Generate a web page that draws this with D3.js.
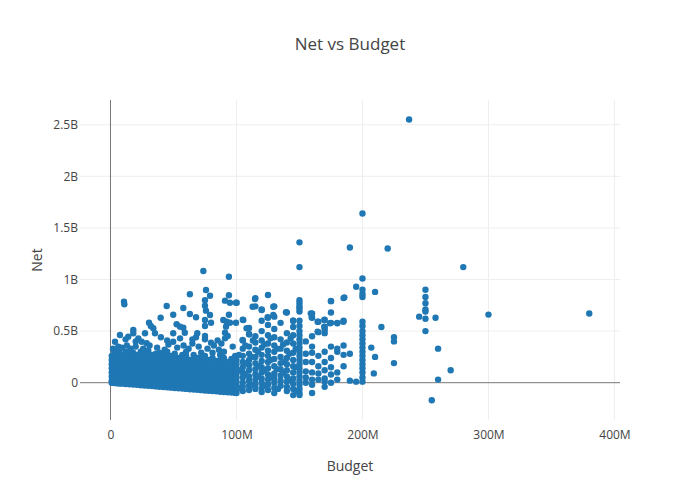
<!DOCTYPE html>
<html>
<head>
<meta charset="utf-8">
<script src="https://d3js.org/d3.v7.min.js"></script>
<style>
  body { margin: 0; background: #fff; }
  text { font-family: "Open Sans", "Noto Sans", sans-serif; fill: #444; }
</style>
</head>
<body>
<div id="chart"></div>
<script>
/* Budget in millions, Net in billions */

/* Dense block of low budget films: budget -> list of nets */
var blobBudgets = [1, 3, 5, 7, 9, 12, 15, 18, 21, 24, 27, 30, 33, 36, 39, 42, 45, 48, 51, 54,
                   57, 60, 63, 66, 69, 72, 75, 78, 81, 84, 87, 90, 93, 96, 99, 100];
var blobNets = [
  [-0.001, 0.02, 0.06, 0.1, 0.14, 0.18, 0.22, 0.26],
  [-0.003, 0.03, 0.07, 0.11, 0.15, 0.19, 0.23, 0.28, 0.31],
  [-0.005, 0.02, 0.06, 0.1, 0.14, 0.19, 0.24, 0.29],
  [-0.007, 0.03, 0.07, 0.12, 0.16, 0.2, 0.25, 0.3],
  [-0.009, 0.02, 0.06, 0.1, 0.15, 0.19, 0.23, 0.27],
  [-0.012, 0.02, 0.06, 0.1, 0.14, 0.18, 0.22, 0.26, 0.3],
  [-0.015, 0.02, 0.06, 0.11, 0.15, 0.19, 0.24, 0.28],
  [-0.018, 0.01, 0.05, 0.09, 0.13, 0.17, 0.21, 0.25, 0.29],
  [-0.021, 0.01, 0.05, 0.1, 0.14, 0.18, 0.22, 0.27],
  [-0.024, 0.01, 0.05, 0.09, 0.13, 0.17, 0.21, 0.25, 0.3],
  [-0.027, 0.0, 0.04, 0.08, 0.12, 0.16, 0.2, 0.24, 0.28],
  [-0.03, 0.0, 0.04, 0.08, 0.12, 0.17, 0.21, 0.26, 0.31],
  [-0.033, 0.0, 0.04, 0.08, 0.12, 0.16, 0.2, 0.24, 0.27],
  [-0.036, -0.01, 0.03, 0.07, 0.11, 0.15, 0.19, 0.23, 0.28],
  [-0.039, -0.01, 0.03, 0.07, 0.11, 0.16, 0.2, 0.25, 0.29],
  [-0.042, -0.01, 0.03, 0.07, 0.11, 0.15, 0.19, 0.23, 0.27],
  [-0.045, -0.01, 0.03, 0.07, 0.12, 0.16, 0.2, 0.25, 0.3],
  [-0.048, -0.02, 0.02, 0.06, 0.1, 0.14, 0.18, 0.22, 0.26],
  [-0.051, -0.02, 0.02, 0.06, 0.1, 0.14, 0.19, 0.23, 0.28],
  [-0.054, -0.02, 0.02, 0.06, 0.1, 0.15, 0.19, 0.24],
  [-0.057, -0.02, 0.02, 0.06, 0.1, 0.14, 0.18, 0.22, 0.27],
  [-0.06, -0.03, 0.01, 0.05, 0.09, 0.13, 0.17, 0.21, 0.26, 0.3],
  [-0.063, -0.03, 0.01, 0.05, 0.09, 0.13, 0.17, 0.22],
  [-0.066, -0.03, 0.01, 0.05, 0.09, 0.14, 0.18, 0.23, 0.27],
  [-0.069, -0.03, 0.01, 0.05, 0.1, 0.14, 0.19, 0.24],
  [-0.072, -0.04, 0.0, 0.04, 0.08, 0.12, 0.16, 0.2, 0.25, 0.29],
  [-0.075, -0.04, 0.0, 0.04, 0.08, 0.12, 0.17, 0.21, 0.26],
  [-0.078, -0.04, 0.0, 0.04, 0.08, 0.13, 0.17, 0.22],
  [-0.081, -0.05, -0.01, 0.03, 0.07, 0.11, 0.15, 0.2, 0.24, 0.29],
  [-0.084, -0.05, -0.01, 0.03, 0.07, 0.11, 0.16, 0.21],
  [-0.087, -0.05, -0.01, 0.03, 0.07, 0.12, 0.17, 0.22, 0.27],
  [-0.09, -0.06, -0.02, 0.02, 0.06, 0.1, 0.14, 0.19, 0.24, 0.3],
  [-0.093, -0.06, -0.02, 0.02, 0.06, 0.11, 0.15, 0.2],
  [-0.096, -0.06, -0.02, 0.02, 0.07, 0.12, 0.17, 0.23],
  [-0.099, -0.06, -0.02, 0.02, 0.06, 0.1, 0.15, 0.2, 0.26],
  [-0.1, -0.07, -0.03, 0.01, 0.05, 0.09, 0.13, 0.18, 0.22]
];

/* Bigger budgets, mostly at round numbers */
var colBudgets = [105, 110, 115, 120, 125, 130, 135, 140, 145, 150, 155, 160, 165, 170, 175,
                  180, 185, 190, 195, 200];
var colNets = [
  [-0.08, -0.04, 0.0, 0.05, 0.1, 0.15, 0.2, 0.26, 0.33, 0.41, 0.61],
  [-0.07, -0.03, 0.02, 0.06, 0.12, 0.17, 0.22, 0.28, 0.35, 0.47, 0.53],
  [-0.06, -0.02, 0.03, 0.08, 0.13, 0.19, 0.25, 0.32, 0.39, 0.45, 0.74, 0.82],
  [-0.09, -0.05, 0.0, 0.04, 0.1, 0.15, 0.21, 0.27, 0.34, 0.41, 0.5, 0.6, 0.71],
  [-0.07, -0.02, 0.03, 0.08, 0.14, 0.2, 0.26, 0.31, 0.38, 0.46, 0.56, 0.63, 0.85],
  [-0.1, -0.05, 0.0, 0.04, 0.09, 0.16, 0.23, 0.3, 0.36, 0.44, 0.52, 0.64, 0.74],
  [-0.03, 0.02, 0.07, 0.13, 0.19, 0.25, 0.33, 0.42, 0.58],
  [-0.08, -0.04, 0.01, 0.06, 0.12, 0.18, 0.24, 0.31, 0.39, 0.48, 0.68],
  [-0.12, -0.06, -0.01, 0.04, 0.1, 0.16, 0.22, 0.29, 0.38, 0.46, 0.54, 0.6],
  [-0.12, -0.1, -0.06, -0.02, 0.02, 0.06, 0.1, 0.14, 0.18, 0.22, 0.26, 0.3, 0.34, 0.38,
   0.42, 0.46, 0.5, 0.55, 0.6, 0.69, 0.72, 0.74, 0.77, 0.8, 1.12, 1.36],
  [0.0, 0.05, 0.11, 0.2, 0.28, 0.4],
  [-0.1, -0.02, 0.03, 0.1, 0.2, 0.29, 0.35, 0.45, 0.63, 0.67],
  [0.03, 0.09, 0.16, 0.26, 0.49, 0.59],
  [-0.04, 0.01, 0.04, 0.12, 0.2, 0.3, 0.48, 0.51, 0.54, 0.61],
  [0.0, 0.08, 0.15, 0.24, 0.35, 0.58, 0.68, 0.79],
  [0.03, 0.1, 0.3, 0.33, 0.58],
  [0.16, 0.27, 0.36, 0.6, 0.82],
  [0.02, 0.28, 1.31],
  [0.01, 0.93],
  [0.01, 0.05, 0.1, 0.14, 0.18, 0.22, 0.26, 0.3, 0.34, 0.38, 0.42, 0.46, 0.5, 0.55, 0.59,
   0.83, 0.86, 0.9, 1.01, 1.64]
];

/* Single films: [budget, net] */
var films = [
  [2, 0.33], [3.6, 0.397], [6.2, 0.349], [7.5, 0.462], [9, 0.34], [10.7, 0.785], [11, 0.76],
  [12, 0.42], [13, 0.36], [14.1, 0.446], [16, 0.33], [18.1, 0.511], [18.1, 0.479], [20, 0.35],
  [20, 0.4], [22.1, 0.43], [24.8, 0.397], [26, 0.33], [27.4, 0.479], [28.7, 0.382],
  [30.6, 0.581], [31, 0.36], [32, 0.55], [34, 0.527], [35.3, 0.479], [37, 0.34], [39.8, 0.63],
  [40, 0.44], [43, 0.32], [44.6, 0.743], [45, 0.41], [46, 0.37], [49.8, 0.659], [49.8, 0.479],
  [49.8, 0.397], [52.5, 0.566], [53, 0.34], [55.2, 0.543], [55.2, 0.43], [57.8, 0.724],
  [57.8, 0.533], [58, 0.36], [59, 0.484], [62, 0.33], [63, 0.857], [63, 0.666], [65, 0.38],
  [65, 0.42], [67.9, 0.634], [67.9, 0.44], [68.9, 0.479], [70, 0.35], [73.7, 1.082],
  [75.8, 0.898], [79, 0.843], [75, 0.8], [75, 0.746], [75.8, 0.698], [79, 0.656], [75, 0.608],
  [75, 0.549], [79.8, 0.581], [75, 0.452], [75, 0.42], [77, 0.33], [79.8, 0.388], [82, 0.36],
  [85, 0.41], [86, 0.32], [88, 0.38], [89.5, 0.608], [90.9, 0.795], [90.9, 0.484], [90.9, 0.43],
  [91.7, 0.543], [92.2, 0.591], [93, 0.452], [94, 1.027], [94, 0.847], [94, 0.659],
  [94.8, 0.775], [94.8, 0.581], [97, 0.35], [99.6, 0.775], [99.6, 0.581],
  [100.2, 0.775], [102, 0.12], [102, 0.27], [103, -0.05], [104.9, 0.414], [105.4, 0.608],
  [107, 0.08], [107, 0.36], [108, 0.19], [108, 0.527], [110, 0.469], [112, -0.02], [112, 0.25],
  [112.8, 0.736], [113, 0.41], [114.7, 0.811], [117, 0.06], [117, 0.3], [118, 0.16],
  [120, 0.704], [122, 0.12], [122, 0.37], [123, -0.03], [124.7, 0.634], [127, 0.22],
  [127, 0.43], [128, 0.05], [129.2, 0.736], [129.2, 0.656], [132, 0.13], [132, 0.33],
  [133, -0.06], [137, 0.1], [137, 0.37], [138, 0.2], [139.3, 0.682], [142, 0.03], [142, 0.28],
  [143, 0.43], [145, 0.6], [147, 0.15], [147, 0.33], [148, -0.08],
  [159, 0.672], [159.7, 0.634], [164.4, 0.591], [164.4, 0.494], [169.7, 0.608],
  [169.7, 0.543], [174.2, 0.576], [175, 0.792], [180, 0.576], [184.8, 0.591], [185.6, 0.827],
  [207, 0.34], [209, 0.09], [210, 0.25], [210, 0.88], [215, 0.54], [220, 1.3], [225, 0.44],
  [225, 0.4], [225, 0.19], [237, 2.55], [245, 0.64], [250, 0.5], [250, 0.62], [250, 0.69],
  [250, 0.71], [250, 0.77], [250, 0.83], [250, 0.9], [255, -0.17], [258, 0.63], [260, 0.33],
  [260, 0.03], [270, 0.12], [280, 1.12], [300, 0.66], [380, 0.67]
];

var xTicks = [0, 100, 200, 300, 400];
var yTicks = [0, 0.5, 1, 1.5, 2, 2.5];

/* Set the dimensions and margins of the diagram */
var W = 700, H = 500;
var margin = {top: 100, right: 80, bottom: 80, left: 80},
    width = W - margin.left - margin.right,
    height = H - margin.top - margin.bottom;

var svg = d3.select("#chart").append("svg").attr("width", W).attr("height", H);

var x = d3.scaleLinear().domain([-24.2, 404.4]).range([0, width]);
var y = d3.scaleLinear().domain([-0.3614, 2.7393]).range([height, 0]);

var g = svg.append("g").attr("transform", "translate(" + margin.left + "," + margin.top + ")");

/* Grid lines */
g.append("g").selectAll("line").data(xTicks.filter(function(d) { return d !== 0; }))
  .enter().append("line")
    .attr("x1", function(d) { return x(d); }).attr("x2", function(d) { return x(d); })
    .attr("y1", 0).attr("y2", height)
    .attr("stroke", "#eee").attr("stroke-width", 1);

g.append("g").selectAll("line").data(yTicks.filter(function(d) { return d !== 0; }))
  .enter().append("line")
    .attr("x1", 0).attr("x2", width)
    .attr("y1", function(d) { return y(d); }).attr("y2", function(d) { return y(d); })
    .attr("stroke", "#eee").attr("stroke-width", 1);

/* Tick labels */
var xAxis = d3.axisBottom(x).tickValues(xTicks).tickSize(0).tickPadding(10)
  .tickFormat(function(d) { return d === 0 ? "0" : d + "M"; });
var xg = g.append("g").attr("transform", "translate(0," + height + ")").call(xAxis);
xg.select(".domain").remove();
xg.selectAll("text").style("font-size", "12px").attr("fill", "#444");

var yAxis = d3.axisLeft(y).tickValues(yTicks).tickSize(0).tickPadding(2)
  .tickFormat(function(d) { return d === 0 ? "0" : d + "B"; });
var yg = g.append("g").call(yAxis);
yg.select(".domain").remove();
yg.selectAll("text").style("font-size", "12px").attr("fill", "#444");

/* Zero lines */
g.append("line").attr("x1", 0).attr("x2", width).attr("y1", y(0)).attr("y2", y(0))
  .attr("stroke", "#777").attr("stroke-width", 1);
g.append("line").attr("x1", x(0)).attr("x2", x(0)).attr("y1", 0).attr("y2", height)
  .attr("stroke", "#777").attr("stroke-width", 1);

/* Gather all points */
var points = [];
blobBudgets.forEach(function(b, i) {
  blobNets[i].forEach(function(n) { points.push([b, n]); });
});
colBudgets.forEach(function(b, i) {
  colNets[i].forEach(function(n) { points.push([b, n]); });
});
films.forEach(function(p) { points.push(p); });

g.append("g").selectAll("circle").data(points)
  .enter().append("circle")
    .attr("cx", function(d) { return x(d[0]); })
    .attr("cy", function(d) { return y(d[1]); })
    .attr("r", 3.2)
    .attr("fill", "#1f77b4");

/* Titles */
svg.append("text").attr("x", W / 2).attr("y", 50).attr("text-anchor", "middle")
  .style("font-size", "17px").text("Net vs Budget");

svg.append("text").attr("x", margin.left + width / 2).attr("y", 471).attr("text-anchor", "middle")
  .style("font-size", "14px").text("Budget");

svg.append("text").attr("transform", "translate(42," + (margin.top + height / 2) + ") rotate(-90)")
  .attr("text-anchor", "middle").style("font-size", "14px").text("Net");
</script>
</body>
</html>
